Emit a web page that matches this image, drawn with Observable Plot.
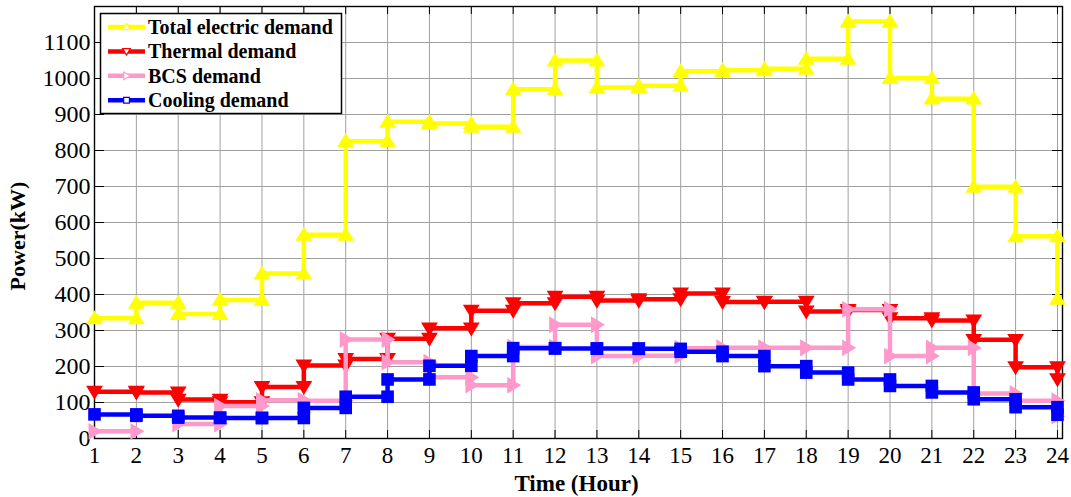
<!DOCTYPE html>
<html>
<head>
<meta charset="utf-8">
<script src="https://cdn.jsdelivr.net/npm/d3@7"></script>
<script src="https://cdn.jsdelivr.net/npm/@observablehq/plot@0.6"></script>
<style>
  body { margin: 0; background: #ffffff; }
  #chart { width: 1071px; height: 497px; }
</style>
</head>
<body>
<div id="chart"></div>
<script>
// Hourly demand profiles (kW), hours 1..24
const hours = [1, 2, 3, 4, 5, 6, 7, 8, 9, 10, 11, 12, 13, 14, 15, 16, 17, 18, 19, 20, 21, 22, 23, 24];
const powerTicks = [0, 100, 200, 300, 400, 500, 600, 700, 800, 900, 1000, 1100];

const totalElectricDemand = [334, 377, 346, 385, 458, 566, 826, 880, 875, 866, 970, 1050, 975, 980, 1020, 1023, 1027, 1055, 1158, 1001, 944, 699, 562, 388];
const thermalDemand = [130, 128, 108, 101, 143, 203, 221, 277, 306, 355, 376, 394, 383, 387, 403, 379, 380, 353, 357, 334, 328, 274, 198, 165];
const bcsDemand = [20, null, 40, 90, 106, 105, 275, 212, 170, 148, 254, 316, 229, 230, 251, 252, 252, 252, 359, 229, 252, 125, 105, 62];
const coolingDemand = [67, 63, 58, 57, 57, 85, 116, 164, 202, 229, 251, 250, 250, 249, 241, 229, 201, 183, 164, 146, 128, 109, 87, 66];

const seriesLabels = ["Total electric demand", "Thermal demand", "BCS demand", "Cooling demand"];
const xTitle = "Time (Hour)";
const yTitle = "Power(kW)";

const serif = "'Liberation Serif', 'Times New Roman', serif";

// Marker shapes (size is the area Plot derives from r)
const shapes = {
  up: { draw(ctx, size) { const r = Math.sqrt(size / Math.PI);
    ctx.moveTo(0, -1.15 * r); ctx.lineTo(1.2 * r, 0.85 * r); ctx.lineTo(-1.2 * r, 0.85 * r); ctx.closePath(); } },
  down: { draw(ctx, size) { const r = Math.sqrt(size / Math.PI);
    ctx.moveTo(0, 1.15 * r); ctx.lineTo(1.2 * r, -0.85 * r); ctx.lineTo(-1.2 * r, -0.85 * r); ctx.closePath(); } },
  right: { draw(ctx, size) { const r = Math.sqrt(size / Math.PI);
    ctx.moveTo(1.15 * r, 0); ctx.lineTo(-0.85 * r, 1.2 * r); ctx.lineTo(-0.85 * r, -1.2 * r); ctx.closePath(); } },
  square: { draw(ctx, size) { const r = Math.sqrt(size / Math.PI); const s = 0.9 * r;
    ctx.rect(-s, -s, 2 * s, 2 * s); } }
};

const series = [
  { label: seriesLabels[0], values: totalElectricDemand, color: "#ffff00", shape: shapes.up },
  { label: seriesLabels[1], values: thermalDemand, color: "#ff0000", shape: shapes.down },
  { label: seriesLabels[2], values: bcsDemand, color: "#ff99cc", shape: shapes.right },
  { label: seriesLabels[3], values: coolingDemand, color: "#0000ff", shape: shapes.square }
];

// Stair vertices: (x_i, y_i), (x_{i+1}, y_i), (x_{i+1}, y_{i+1}), ...
function stairs(values) {
  const pts = [];
  values.forEach((v, i) => {
    pts.push({ x: hours[i], y: v });
    if (i < values.length - 1) pts.push({ x: hours[i + 1], y: v });
  });
  return pts;
}

const W = 1071, H = 497;
const mL = 94, mR = 9, mT = 6, mB = 59;
const frameW = W - mL - mR, frameH = H - mT - mB;
const gridColor = "#a0a0a0";

const marks = [
  Plot.gridX(hours, { stroke: gridColor, strokeOpacity: 1, strokeWidth: 1 }),
  Plot.gridY(powerTicks, { stroke: gridColor, strokeOpacity: 1, strokeWidth: 1 }),
  // inward ticks on all four sides
  Plot.tickX(hours, { x: d => d, insetTop: frameH - 8, stroke: "#000" }),
  Plot.tickX(hours, { x: d => d, insetBottom: frameH - 8, stroke: "#000" }),
  Plot.tickY(powerTicks, { y: d => d, insetLeft: frameW - 10, stroke: "#000" }),
  Plot.tickY(powerTicks, { y: d => d, insetRight: frameW - 10, stroke: "#000" }),
  Plot.frame({ stroke: "#000", strokeWidth: 1.4 }),
  Plot.axisX(hours, { tickSize: 0, tickPadding: 8, fontSize: 23, fontFamily: serif, label: null, tickFormat: d => String(d) }),
  Plot.axisY(powerTicks, { tickSize: 0, tickPadding: 4, fontSize: 24, fontFamily: serif, label: null, tickFormat: d => String(d) }),
  Plot.text([xTitle], { frameAnchor: "bottom", dy: 52, dx: -2, lineAnchor: "bottom", fontSize: 23, fontWeight: "bold", fontFamily: serif })
];

for (const s of series) {
  const pts = stairs(s.values);
  marks.push(Plot.line(pts, { x: "x", y: "y", stroke: s.color, strokeWidth: 4.5, strokeLinejoin: "miter", strokeLinecap: "butt" }));
  marks.push(Plot.dot(pts.filter(d => d.y != null), { x: "x", y: "y", r: 7, symbol: s.shape, fill: s.color, stroke: "none" }));
}

const chart = Plot.plot({
  width: W, height: H,
  marginLeft: mL, marginRight: mR, marginTop: mT, marginBottom: mB,
  x: { domain: [1, 24.12] },
  y: { domain: [0, 1200] },
  style: { fontFamily: serif, fontSize: "23px", color: "#000", background: "#fff" },
  marks
});
document.getElementById("chart").appendChild(chart);

const svg = d3.select(chart);

// Vertical y-axis title
svg.append("text")
  .attr("transform", "translate(25,236) rotate(-90)")
  .attr("text-anchor", "middle")
  .attr("font-family", serif).attr("font-size", 22).attr("font-weight", "bold").attr("fill", "#000")
  .text(yTitle);

// Legend box in the upper-left corner of the plot area
const lg = svg.append("g").attr("text-anchor", "start");
lg.append("rect")
  .attr("x", 100.5).attr("y", 13.5).attr("width", 241).attr("height", 100)
  .attr("fill", "#fff").attr("stroke", "#000").attr("stroke-width", 1.5);
series.forEach((s, i) => {
  const cy = 27 + i * 24.4;
  lg.append("line").attr("x1", 108).attr("x2", 145).attr("y1", cy).attr("y2", cy)
    .attr("stroke", s.color).attr("stroke-width", 4.5);
  const p = d3.path();
  s.shape.draw(p, 3.2 * 3.2 * Math.PI);
  lg.append("path").attr("d", p.toString()).attr("transform", `translate(126.5,${cy})`)
    .attr("fill", "#fff").attr("stroke", s.color).attr("stroke-width", 1.2);
  lg.append("text").attr("x", 148).attr("y", cy + 7)
    .attr("text-anchor", "start")
    .attr("font-family", serif)
    .attr("font-size", 20).attr("font-weight", "bold").attr("fill", "#000")
    .text(s.label);
});
</script>
</body>
</html>
